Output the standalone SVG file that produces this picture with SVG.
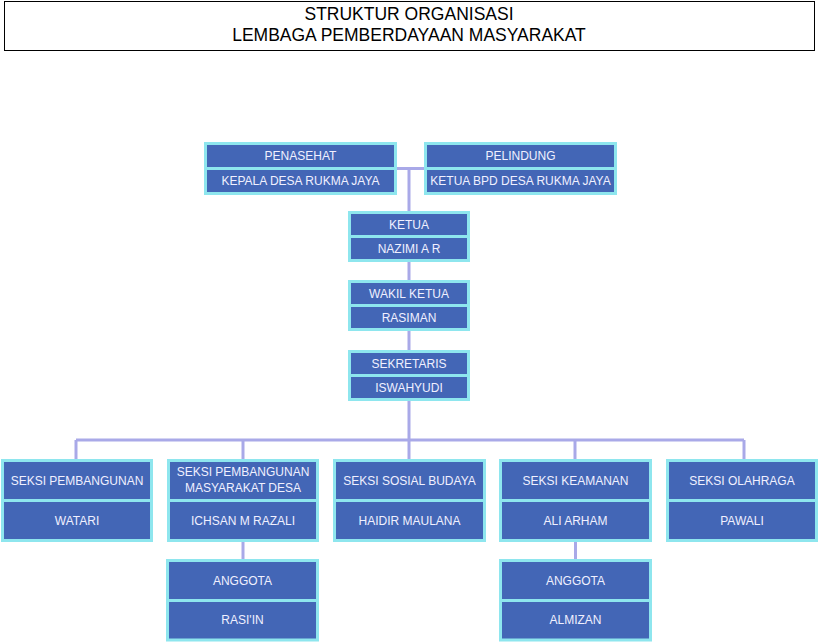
<svg xmlns="http://www.w3.org/2000/svg" width="819" height="642" viewBox="0 0 819 642">
<style>
.cell{fill:#4366B6;stroke:#8EE6EE;stroke-width:3}
.t{font-family:"Liberation Sans",Arial,sans-serif;font-size:12px;fill:#F0F0FF;text-anchor:middle}
.title{font-family:"Liberation Sans",Arial,sans-serif;font-size:17.5px;fill:#000;text-anchor:middle}
.conn{fill:none;stroke:#A9A9E8;stroke-width:3}
</style>
<rect width="819" height="642" fill="#fff"/>
<g id="title">
<rect x="4.5" y="1.5" width="810" height="49" fill="#fff" stroke="#000" stroke-width="1"/>
<text class="title" x="409" y="20">STRUKTUR ORGANISASI</text>
<text class="title" x="409" y="41">LEMBAGA PEMBERDAYAAN MASYARAKAT</text>
</g>
<g id="connectors" class="conn">
<path d="M395 168.5 H426 M409 168.5 V212"/>
<path d="M409 261 V281 M409 330 V351 M409 400 V440"/>
<path d="M76 440 H744 M76 440 V460 M243 440 V460 M409 440 V460 M575 440 V460 M744 440 V460"/>
<path d="M243 541 V560 M575.5 541 V560"/>
</g>
<g id="penasehat">
<rect class="cell" x="205.5" y="143.5" width="190" height="25"/>
<rect class="cell" x="205.5" y="168.5" width="190" height="25"/>
<text class="t" x="300.5" y="160">PENASEHAT</text>
<text class="t" x="300.5" y="185">KEPALA DESA RUKMA JAYA</text>
</g>
<g id="pelindung">
<rect class="cell" x="425.5" y="143.5" width="190" height="25"/>
<rect class="cell" x="425.5" y="168.5" width="190" height="25"/>
<text class="t" x="520.5" y="160">PELINDUNG</text>
<text class="t" x="520.5" y="185">KETUA BPD DESA RUKMA JAYA</text>
</g>
<g id="ketua">
<rect class="cell" x="349.5" y="212.5" width="119" height="24"/>
<rect class="cell" x="349.5" y="236.5" width="119" height="24"/>
<text class="t" x="409" y="228.5">KETUA</text>
<text class="t" x="409" y="252.5">NAZIMI A R</text>
</g>
<g id="wakil">
<rect class="cell" x="349.5" y="281.5" width="119" height="24"/>
<rect class="cell" x="349.5" y="305.5" width="119" height="24"/>
<text class="t" x="409" y="297.5">WAKIL KETUA</text>
<text class="t" x="409" y="321.5">RASIMAN</text>
</g>
<g id="sekretaris">
<rect class="cell" x="349.5" y="351.5" width="119" height="24"/>
<rect class="cell" x="349.5" y="375.5" width="119" height="24"/>
<text class="t" x="409" y="367.5">SEKRETARIS</text>
<text class="t" x="409" y="391.5">ISWAHYUDI</text>
</g>
<g id="seksi-pembangunan">
<rect class="cell" x="2.5" y="460.5" width="149" height="40"/>
<rect class="cell" x="2.5" y="500.5" width="149" height="40"/>
<text class="t" x="77" y="484.5">SEKSI PEMBANGUNAN</text>
<text class="t" x="77" y="524.5">WATARI</text>
</g>
<g id="seksi-pmd">
<rect class="cell" x="168.5" y="460.5" width="149" height="40"/>
<rect class="cell" x="168.5" y="500.5" width="149" height="40"/>
<text class="t" x="243" y="476">SEKSI PEMBANGUNAN</text>
<text class="t" x="243" y="492">MASYARAKAT DESA</text>
<text class="t" x="243" y="524.5">ICHSAN M RAZALI</text>
</g>
<g id="seksi-sosial">
<rect class="cell" x="334.5" y="460.5" width="150" height="40"/>
<rect class="cell" x="334.5" y="500.5" width="150" height="40"/>
<text class="t" x="409.5" y="484.5">SEKSI SOSIAL BUDAYA</text>
<text class="t" x="409.5" y="524.5">HAIDIR MAULANA</text>
</g>
<g id="seksi-keamanan">
<rect class="cell" x="500.5" y="460.5" width="150" height="40"/>
<rect class="cell" x="500.5" y="500.5" width="150" height="40"/>
<text class="t" x="575.5" y="484.5">SEKSI KEAMANAN</text>
<text class="t" x="575.5" y="524.5">ALI ARHAM</text>
</g>
<g id="seksi-olahraga">
<rect class="cell" x="667.5" y="460.5" width="149" height="40"/>
<rect class="cell" x="667.5" y="500.5" width="149" height="40"/>
<text class="t" x="742" y="484.5">SEKSI OLAHRAGA</text>
<text class="t" x="742" y="524.5">PAWALI</text>
</g>
<g id="anggota-1">
<rect class="cell" x="167.5" y="560.5" width="150" height="40"/>
<rect class="cell" x="167.5" y="600.5" width="150" height="39.5"/>
<text class="t" x="242.5" y="584.5">ANGGOTA</text>
<text class="t" x="242.5" y="624">RASI'IN</text>
</g>
<g id="anggota-2">
<rect class="cell" x="500.5" y="560.5" width="150" height="40"/>
<rect class="cell" x="500.5" y="600.5" width="150" height="39.5"/>
<text class="t" x="575.5" y="584.5">ANGGOTA</text>
<text class="t" x="575.5" y="624">ALMIZAN</text>
</g>
</svg>
